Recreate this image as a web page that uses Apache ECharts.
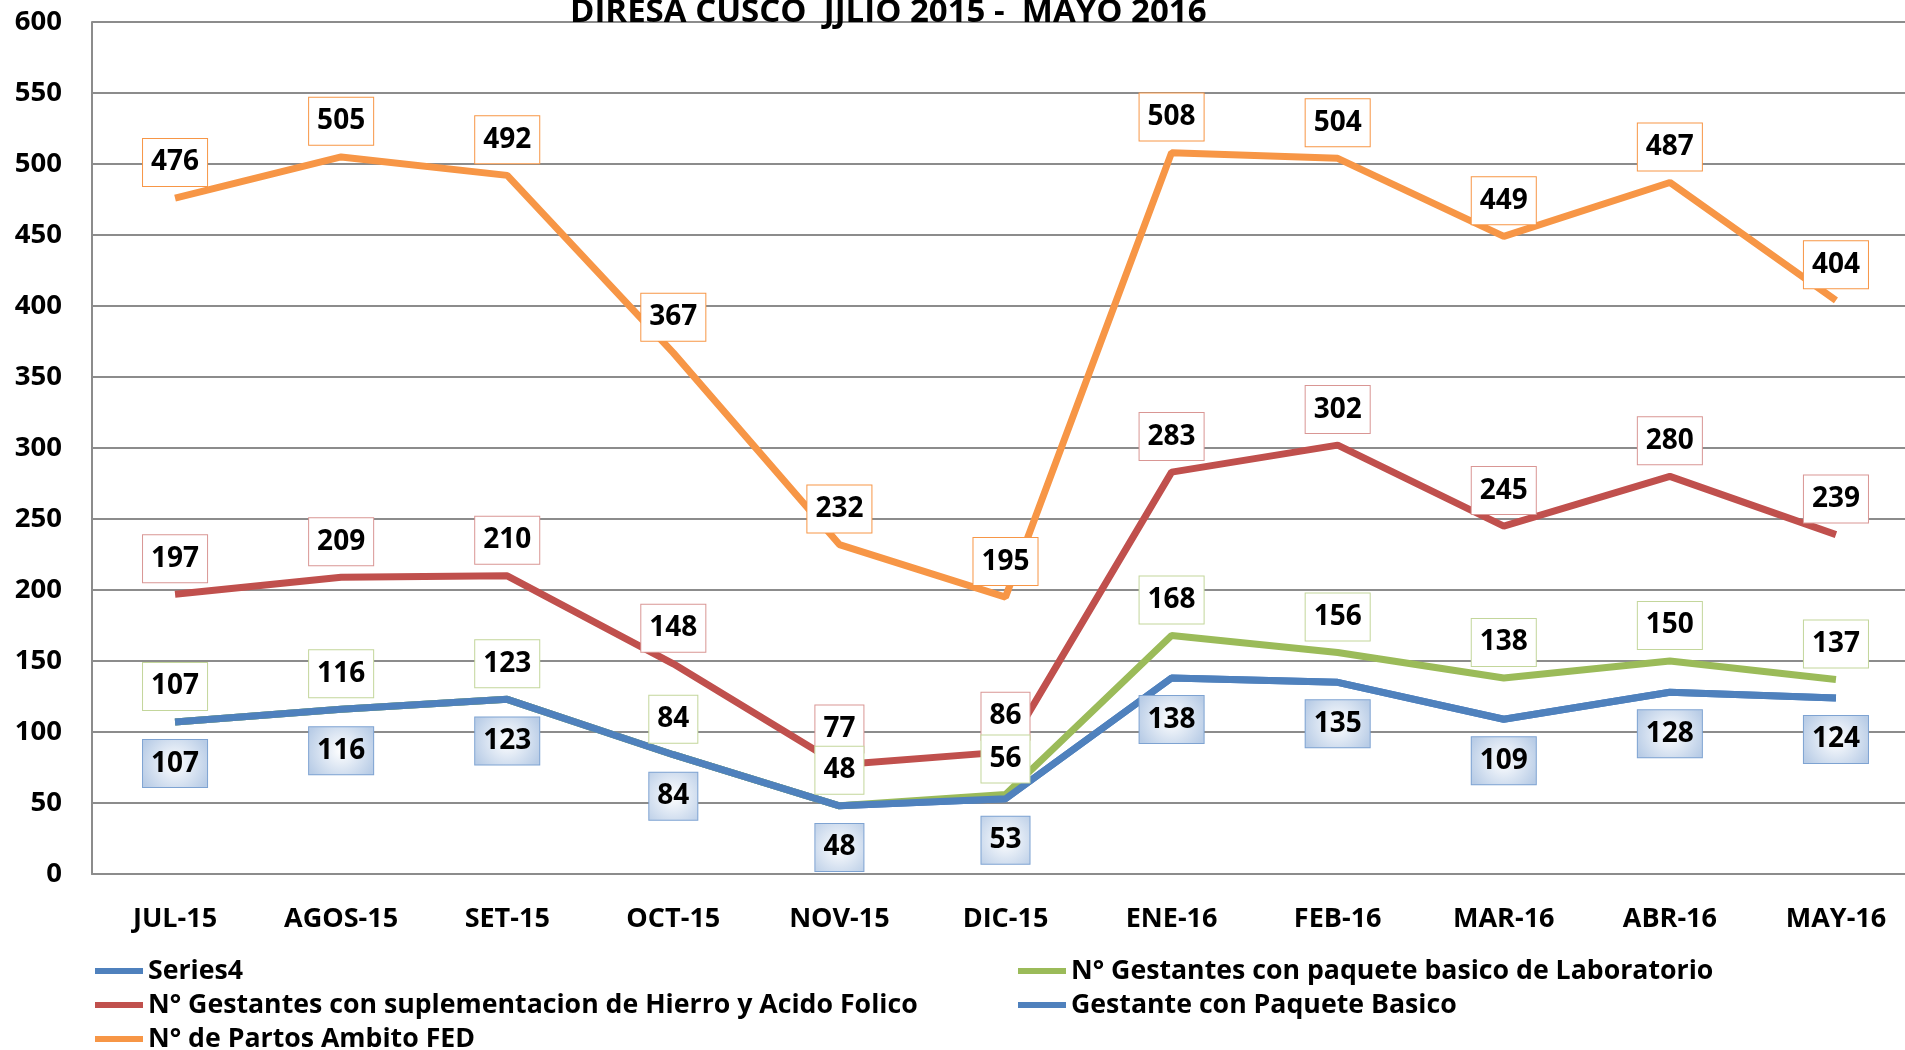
<!DOCTYPE html>
<html>
<head>
<meta charset="utf-8">
<script src="https://cdn.jsdelivr.net/npm/echarts@6/dist/echarts.min.js"></script>
<style>
	html, body { margin: 0; padding: 0; background: #fff; }
	#chart { width: 1905px; height: 1050px; }
</style>
</head>
<body>
<div id="chart"></div>
<script>
const categories = ['JUL-15', 'AGOS-15', 'SET-15', 'OCT-15', 'NOV-15', 'DIC-15', 'ENE-16', 'FEB-16', 'MAR-16', 'ABR-16', 'MAY-16']
const partos = [476, 505, 492, 367, 232, 195, 508, 504, 449, 487, 404]
const hierro = [197, 209, 210, 148, 77, 86, 283, 302, 245, 280, 239]
const laboratorio = [107, 116, 123, 84, 48, 56, 168, 156, 138, 150, 137]
const paqueteBasico = [107, 116, 123, 84, 48, 53, 138, 135, 109, 128, 124]
const series4 = [107, 116, 123, 84, 48, 53, 138, 135, 109, 128, 124]

const FONT = '"Open Sans", sans-serif'
const N_SERIES4 = 'Series4'
const N_HIERRO = 'N° Gestantes con suplementacion de Hierro y Acido Folico'
const N_PARTOS = 'N° de Partos Ambito FED'
const N_LAB = 'N° Gestantes con paquete basico de Laboratorio'
const N_PAQ = 'Gestante con Paquete Basico'

function boxLabel(pos, dist, border, bg) {
	return {
		show: true,
		position: pos,
		distance: dist,
		fontFamily: FONT,
		fontWeight: 'bold',
		fontSize: 28,
		lineHeight: 31,
		color: '#000',
		backgroundColor: bg,
		borderColor: border,
		borderWidth: 1,
		padding: [8, 8],
	}
}

// one legend per entry, placed like the two columns of the original
function legendItem(name, left, top) {
	return {
		left: left,
		top: top,
		padding: 0,
		itemWidth: 48,
		itemHeight: 6,
		itemGap: 0,
		icon: 'rect',
		data: [name],
		textStyle: { fontFamily: FONT, fontWeight: 'bold', fontSize: 26.7, lineHeight: 28, color: '#000', padding: 0 },
	}
}

function lineSeries(name, data, color, label) {
	return {
		name: name,
		type: 'line',
		data: data,
		symbol: 'circle',
		symbolSize: 0.1,
		showSymbol: true,
		color: color,
		lineStyle: { width: 7 },
		label: label,
	}
}

let chart = echarts.init(document.getElementById('chart'))
let option = {
	animation: false,
	title: {
		text: 'DIRESA CUSCO  JJLIO 2015 -  MAYO 2016',
		left: 565,
		top: -9,
		textStyle: {
			fontFamily: FONT,
			fontWeight: 'bold',
			fontSize: 33,
			color: '#000',
		},
	},
	legend: [
		legendItem(N_SERIES4, 95, 957),
		legendItem(N_HIERRO, 95, 991),
		legendItem(N_PARTOS, 95, 1025),
		legendItem(N_LAB, 1018, 957),
		legendItem(N_PAQ, 1018, 991),
	],
	grid: {
		left: 92,
		top: 22,
		width: 1827,
		height: 852,
		outerBoundsMode: 'none',
		containLabel: false,
	},
	xAxis: {
		type: 'category',
		data: categories,
		boundaryGap: true,
		axisTick: { show: false },
		axisLine: { lineStyle: { color: '#8c8c8c', width: 2 } },
		axisLabel: {
			margin: 32,
			fontFamily: FONT,
			fontWeight: 'bold',
			fontSize: 27,
			color: '#000',
			interval: 0,
		},
	},
	yAxis: {
		type: 'value',
		min: 0,
		max: 600,
		interval: 50,
		axisLine: { show: true, lineStyle: { color: '#8c8c8c', width: 2 } },
		axisTick: { show: false },
		axisLabel: {
			margin: 30,
			fontFamily: FONT,
			fontWeight: 'bold',
			fontSize: 27.5,
			color: '#000',
		},
		splitLine: {
			show: true,
			lineStyle: { color: '#8c8c8c', width: 2 },
		},
	},
	series: [
		lineSeries(N_SERIES4, series4, '#4f81bd', { show: false }),
		lineSeries(N_HIERRO, hierro, '#c0504d', boxLabel('top', 12, '#d99694', '#fff')),
		lineSeries(N_PARTOS, partos, '#f79646', boxLabel('top', 12, '#f79646', '#fff')),
		lineSeries(N_LAB, laboratorio, '#9bbb59', boxLabel('top', 12, '#c3d69b', '#fff')),
		lineSeries(N_PAQ, paqueteBasico, '#4f81bd', boxLabel('bottom', 18, '#7ea3d2', {
			type: 'radial', x: 0.5, y: 0.5, r: 0.75,
			colorStops: [
				{ offset: 0, color: '#ffffff' },
				{ offset: 1, color: '#b8cce6' },
			],
		})),
	],
}
chart.setOption(option)
</script>
</body>
</html>
